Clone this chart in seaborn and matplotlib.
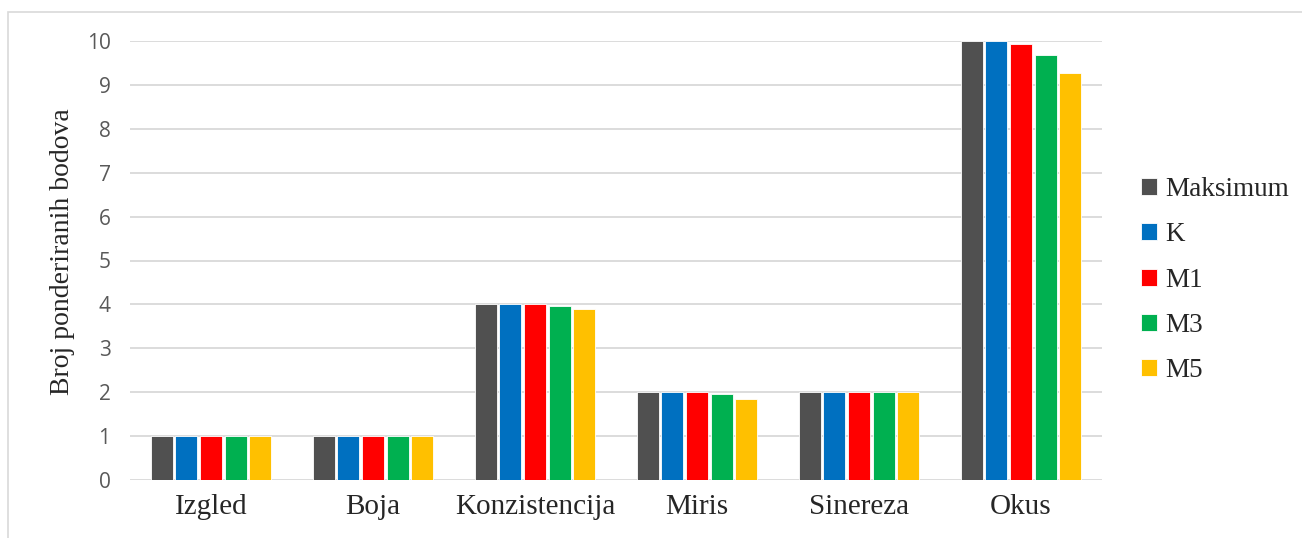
import matplotlib
matplotlib.use('Agg')
import matplotlib.pyplot as plt
import pandas as pd
import seaborn as sns
from matplotlib.patches import Rectangle

# datos
kategorije = ['Izgled', 'Boja', 'Konzistencija', 'Miris', 'Sinereza', 'Okus']
uzorci = ['Maksimum', 'K', 'M1', 'M3', 'M5']
maksimum = [1, 1, 4, 2, 2, 10]
k = [1, 1, 4.0, 2, 2, 10.0]
m1 = [1, 1, 4.0, 2, 2, 9.93]
m3 = [1, 1, 3.96, 1.95, 2, 9.68]
m5 = [1, 1, 3.90, 1.84, 2, 9.28]
boje = ['#505050', '#0070C0', '#FF0000', '#00B050', '#FFC000']

filas = []
for uzorak, vrijednosti in zip(uzorci, [maksimum, k, m1, m3, m5]):
    for kat, v in zip(kategorije, vrijednosti):
        filas.append({'Kategorija': kat, 'Uzorak': uzorak, 'Bodovi': v})
df = pd.DataFrame(filas)

sns.set_style('white')
serif = ['Liberation Serif', 'DejaVu Serif']
sans = ['Open Sans', 'DejaVu Sans']

fig = plt.figure(figsize=(13.02, 5.38), dpi=100)
ax = fig.add_axes([130 / 1302, 1 - 480 / 538, (1102 - 130) / 1302, (480 - 41) / 538])

sns.barplot(data=df, x='Kategorija', y='Bodovi', hue='Uzorak', order=kategorije,
            hue_order=uzorci, palette=boje, width=0.76, gap=0.1, ax=ax,
            edgecolor='white', linewidth=0.6, saturation=1)

ax.set_ylim(0, 10)
ax.set_yticks(range(0, 11))
ax.set_xlim(-0.5, 5.5)
ax.grid(axis='y', color='#D9D9D9', linewidth=1.3)
ax.set_axisbelow(True)
for s in ax.spines.values():
    s.set_visible(False)
ax.tick_params(axis='y', length=0, pad=14, labelsize=15, labelcolor='#595959')
ax.tick_params(axis='x', length=0, pad=10, labelsize=21)
for t in ax.get_yticklabels():
    t.set_family(sans)
for t in ax.get_xticklabels():
    t.set_family(serif)
ax.set_xlabel('')
ax.set_ylabel('Broj ponderiranih bodova', fontsize=20, family=serif)
ax.yaxis.set_label_coords(-0.057, 0.52)

handles, labels = ax.get_legend_handles_labels()
ax.legend(handles, labels, loc='center left', bbox_to_anchor=(1.015, 0.455), frameon=False,
          prop={'family': serif, 'size': 19.5}, handlelength=0.6, handleheight=0.6,
          handletextpad=0.3, labelspacing=0.75)

# okvir oko grafikona
fig.patches.append(Rectangle((8 / 1302, -0.1), 1.1, 1.1 - 12 / 538, transform=fig.transFigure,
                             fill=False, edgecolor='#D9D9D9', linewidth=1.2))

fig.savefig('out.png', dpi=100)
